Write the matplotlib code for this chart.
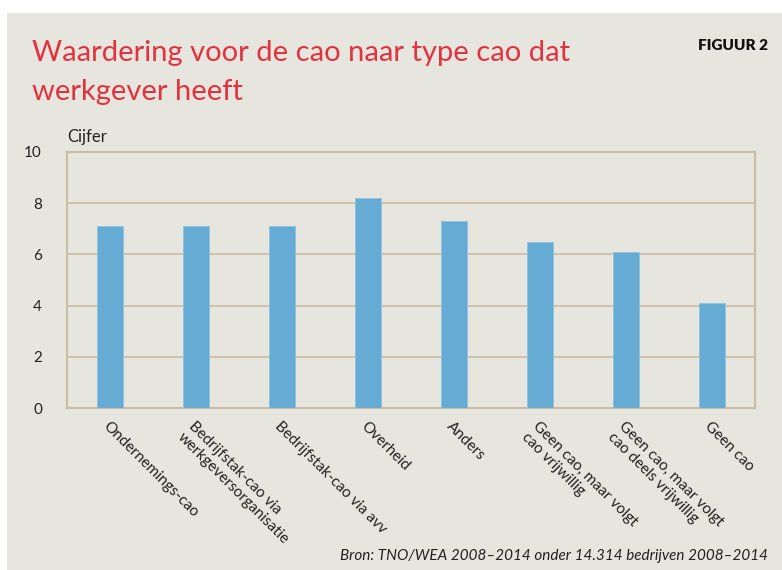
import numpy as np
import matplotlib.pyplot as plt
from matplotlib.patches import Rectangle

categories = ['Ondernemings-cao', 'Bedrijfstak-cao via\nwerkgeversorganisatie',
              'Bedrijfstak-cao via avv', 'Overheid', 'Anders',
              'Geen cao, maar volgt\ncao vrijwillig', 'Geen cao, maar volgt\ncao deels vrijwillig',
              'Geen cao']
values = [7.1, 7.1, 7.1, 8.2, 7.3, 6.5, 6.1, 4.1]
yticks = [0, 2, 4, 6, 8, 10]

BG = '#e7e6de'
TAN = '#c9bda3'
BLUE = '#66abd4'
RED = '#e3323f'

W, H = 782, 570
fig = plt.figure(figsize=(W / 100, H / 100), dpi=100)
fig.patch.set_facecolor('white')
# beige panel (white strip at top and left)
fig.add_artist(Rectangle((7 / W, 0), 1, 1 - 13 / H, transform=fig.transFigure,
                         facecolor=BG, edgecolor='none', zorder=0))

ax = fig.add_axes([67 / W, 1 - 408 / H, (755 - 67) / W, (408 - 152) / H])
ax.set_facecolor(BG)
x = np.arange(len(categories))
ax.bar(x, values, width=0.31, color=BLUE, edgecolor='#8cc3e2', linewidth=0.6, zorder=3)
ax.set_xlim(-0.5, len(categories) - 0.5)
ax.set_ylim(0, 10)
ax.set_yticks(yticks)
ax.set_yticklabels([str(t) for t in yticks], fontsize=11, family='Lato', color='#222222')
ax.yaxis.grid(True, color=TAN, lw=1.2, zorder=0)
ax.tick_params(axis='y', length=0, pad=18)
ax.tick_params(axis='x', length=0, pad=8)
for spine in ax.spines.values():
    spine.set_color(TAN)
    spine.set_linewidth(1.5)
ax.set_xticks(x)
ax.set_xticklabels(categories, rotation=-45, ha='left', va='top', rotation_mode='anchor',
                   fontsize=11, family='Lato', color='#222222', linespacing=1.15)

# titles and notes
fig.text(32 / W, 1 - 100 / H, 'Waardering voor de cao naar type cao dat\nwerkgever heeft',
         color=RED, fontsize=21, family='Lato',
         ha='left', va='baseline', linespacing=1.6)
fig.text(768 / W, 1 - 50 / H, 'FIGUUR 2', fontsize=11, fontweight='heavy', family='Lato',
         ha='right', va='baseline', color='#111111')
fig.text(67 / W, 1 - 142 / H, 'Cijfer', fontsize=12, family='Lato', ha='left', va='baseline',
         color='#222222')
fig.text(768 / W, 1 - 560 / H, 'Bron: TNO/WEA 2008–2014 onder 14.314 bedrijven 2008–2014',
         fontsize=11, style='italic', family='Lato', ha='right', va='baseline', color='#222222')

plt.savefig('out.png', dpi=100, facecolor=fig.get_facecolor())
